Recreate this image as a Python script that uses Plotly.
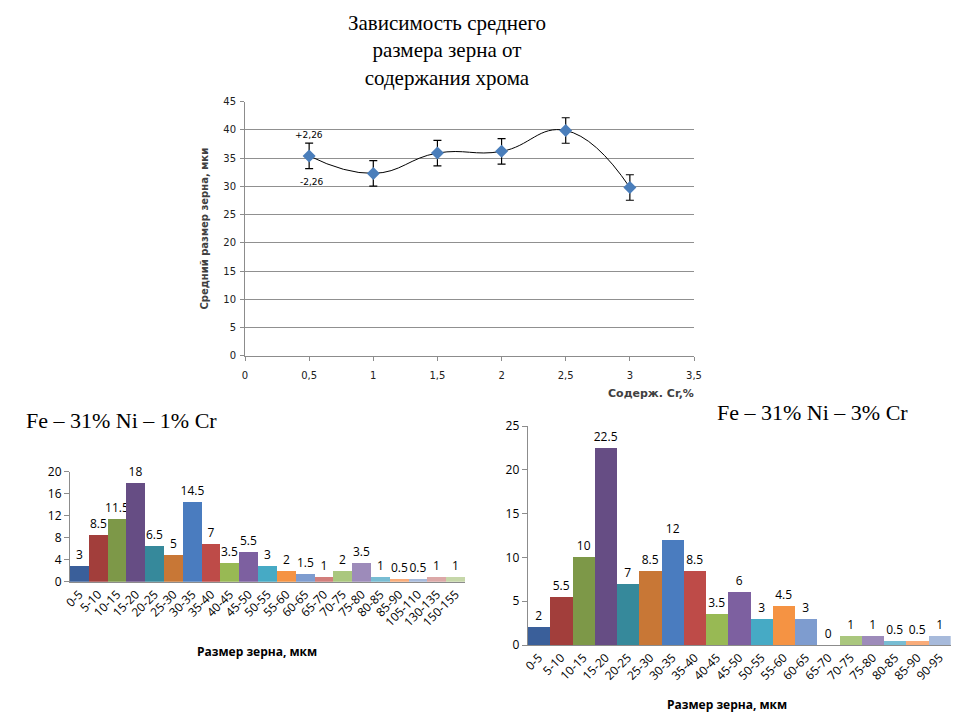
import plotly.graph_objects as go

# ---------------- data ----------------
cr_content = [0.5, 1, 1.5, 2, 2.5, 3]
grain_mean = [35.4, 32.3, 35.9, 36.2, 39.9, 29.8]
grain_err = [2.26, 2.26, 2.26, 2.26, 2.26, 2.26]

cats_1cr = ["0-5", "5-10", "10-15", "15-20", "20-25", "25-30", "30-35", "35-40", "40-45",
            "45-50", "50-55", "55-60", "60-65", "65-70", "70-75", "75-80", "80-85", "85-90",
            "105-110", "130-135", "150-155"]
vals_1cr = [3, 8.5, 11.5, 18, 6.5, 5, 14.5, 7, 3.5, 5.5, 3, 2, 1.5, 1, 2, 3.5, 1, 0.5, 0.5, 1, 1]

cats_3cr = ["0-5", "5-10", "10-15", "15-20", "20-25", "25-30", "30-35", "35-40", "40-45",
            "45-50", "50-55", "55-60", "60-65", "65-70", "70-75", "75-80", "80-85", "85-90",
            "90-95"]
vals_3cr = [2, 5.5, 10, 22.5, 7, 8.5, 12, 8.5, 3.5, 6, 3, 4.5, 3, 0, 1, 1, 0.5, 0.5, 1]

palette = ["#3A5F9A", "#A23E3B", "#7D9848", "#664D84", "#36899B", "#C87736",
           "#4A7CBF", "#BE4B48", "#98B954", "#7D60A0", "#46AAC5", "#F59343",
           "#7E9CCF", "#D27E7B", "#AAC77E", "#9D8BBA", "#78BDD3", "#F9AC7A",
           "#A7BADB", "#DCA8A7", "#C6D7A9"]

# page body has an 8px margin, so the figure sits at (8, 8) in the window
OFF = 8
W, H = 944, 704

def px(x):
    return (x - OFF) / W

def py(y):
    return 1 - (y - OFF) / H

fig = go.Figure()

# ---------------- top chart ----------------
fig.add_trace(go.Scatter(
    x=cr_content, y=grain_mean, mode="lines",
    line=dict(color="black", width=1, shape="spline", smoothing=1.3),
    xaxis="x", yaxis="y", showlegend=False, hoverinfo="skip"))
fig.add_trace(go.Scatter(
    x=cr_content, y=grain_mean, mode="markers",
    marker=dict(symbol="diamond", size=10, color="#4A7EBB"),
    error_y=dict(type="data", array=grain_err, color="black", thickness=1.2, width=4),
    xaxis="x", yaxis="y", showlegend=False))

# ---------------- bar charts ----------------
fig.add_trace(go.Bar(
    x=cats_1cr, y=vals_1cr, marker=dict(color=palette[:len(vals_1cr)], line=dict(width=0)),
    text=[f"{v:g}" for v in vals_1cr], textposition="outside", cliponaxis=False,
    constraintext="none",
    textfont=dict(family="Open Sans", size=12, color="black"),
    xaxis="x2", yaxis="y2", showlegend=False))
fig.add_trace(go.Bar(
    x=cats_3cr, y=vals_3cr, marker=dict(color=palette[:len(vals_3cr)], line=dict(width=0)),
    text=[f"{v:g}" for v in vals_3cr], textposition="outside", cliponaxis=False,
    constraintext="none",
    textfont=dict(family="Open Sans", size=12, color="black"),
    xaxis="x3", yaxis="y3", showlegend=False))

axis_grey = "#8C8C8C"
tick_font_top = dict(family="DejaVu Sans", size=10, color="#202020")
tick_font_bar = dict(family="Open Sans", size=12, color="black")

fig.update_layout(
    width=W, height=H, autosize=False,
    margin=dict(l=0, r=0, t=0, b=0, autoexpand=False),
    paper_bgcolor="white", plot_bgcolor="white",
    separators=",.",
    bargap=0,
    xaxis=dict(domain=[px(245), px(694)], range=[0, 3.5], dtick=0.5, tick0=0,
               showgrid=False, zeroline=False, showline=True, linecolor=axis_grey,
               ticks="outside", ticklen=4, tickcolor=axis_grey, tickfont=tick_font_top,
               ticklabelstandoff=6, anchor="y", automargin=False),
    yaxis=dict(domain=[py(355.7), py(101.7)], range=[0, 45], dtick=5,
               showgrid=True, gridcolor="#909090", gridwidth=1, zeroline=False,
               showline=True, linecolor=axis_grey, ticks="outside", ticklen=4,
               tickcolor=axis_grey, tickfont=tick_font_top, anchor="x", automargin=False,
               ticklabelstandoff=2,
               title=dict(text="Средний размер зерна, мки",
                          font=dict(family="DejaVu Sans", size=10, color="#404040",
                                    weight="bold"), standoff=12)),
    xaxis2=dict(domain=[px(70), px(465)], type="category", showgrid=False,
                showline=True, linecolor=axis_grey, ticks="", tickangle=-45,
                tickfont=tick_font_bar, anchor="y2", automargin=False),
    yaxis2=dict(domain=[py(581.7), py(471.7)], range=[0, 20], dtick=4,
                showgrid=False, zeroline=False, showline=True, linecolor=axis_grey,
                ticks="outside", ticklen=5, tickcolor=axis_grey, tickfont=tick_font_bar,
                anchor="x2", automargin=False),
    xaxis3=dict(domain=[px(527.7), px(950.7)], type="category", showgrid=False,
                showline=True, linecolor=axis_grey, ticks="", tickangle=-45,
                tickfont=tick_font_bar, anchor="y3", automargin=False),
    yaxis3=dict(domain=[py(645), py(426)], range=[0, 25], dtick=5,
                showgrid=False, zeroline=False, showline=True, linecolor=axis_grey,
                ticks="outside", ticklen=5, tickcolor=axis_grey, tickfont=tick_font_bar,
                anchor="x3", automargin=False),
)

annotations = [
    dict(text="Зависимость среднего<br>размера зерна от<br>содержания хрома",
         x=px(447), y=py(50), xref="paper", yref="paper", showarrow=False,
         font=dict(family="Liberation Serif", size=21, color="black"),
         xanchor="center", yanchor="middle"),
    dict(text="+2,26", x=0.5, y=grain_mean[0] + grain_err[0] + 0.2, xref="x", yref="y",
         showarrow=False, font=dict(family="DejaVu Sans", size=9, color="black"),
         xanchor="center", yanchor="bottom"),
    dict(text="-2,26", x=0.52, y=grain_mean[0] - grain_err[0] - 1.2, xref="x", yref="y",
         showarrow=False, font=dict(family="DejaVu Sans", size=9, color="black"),
         xanchor="center", yanchor="top"),
    dict(text="Содерж. Cr,%", x=px(696), y=py(393), xref="paper", yref="paper",
         showarrow=False, font=dict(family="DejaVu Sans", size=11, color="#404040",
                                    weight="bold"),
         xanchor="right", yanchor="middle"),
    dict(text="Fe – 31% Ni – 1% Cr", x=px(24), y=py(420), xref="paper", yref="paper",
         showarrow=False, font=dict(family="Liberation Serif", size=22, color="black"),
         xanchor="left", yanchor="middle"),
    dict(text="Fe – 31% Ni – 3% Cr", x=px(715), y=py(412), xref="paper", yref="paper",
         showarrow=False, font=dict(family="Liberation Serif", size=22, color="black"),
         xanchor="left", yanchor="middle"),
    dict(text="Размер зерна, мкм", x=px(257), y=py(651), xref="paper", yref="paper",
         showarrow=False, font=dict(family="Open Sans", size=12, color="black",
                                    weight="bold"),
         xanchor="center", yanchor="middle"),
    dict(text="Размер зерна, мкм", x=px(727), y=py(704), xref="paper", yref="paper",
         showarrow=False, font=dict(family="Open Sans", size=12, color="black",
                                    weight="bold"),
         xanchor="center", yanchor="middle"),
]
fig.update_layout(annotations=annotations)

fig.write_html("out.html")
